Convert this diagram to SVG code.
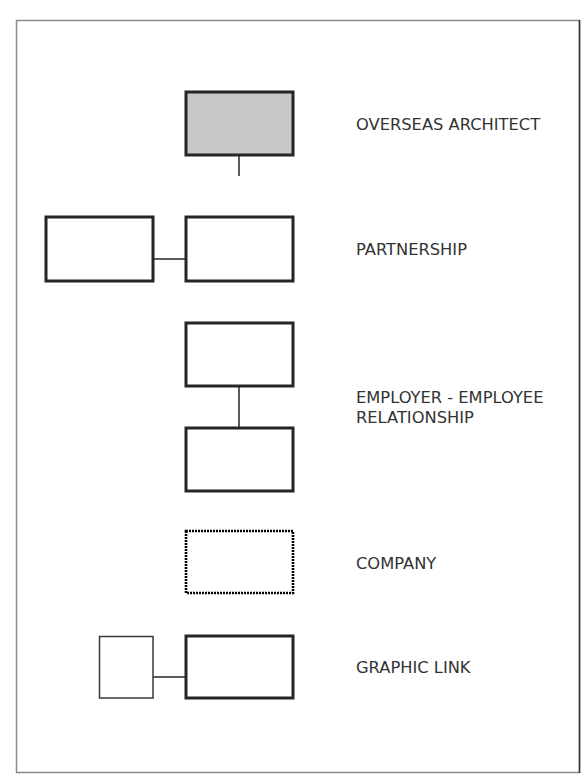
<svg xmlns="http://www.w3.org/2000/svg" width="585" height="779" viewBox="0 0 585 779">
  <style>
    .frame { fill: #ffffff; stroke: #8a8a8a; stroke-width: 1.5; }
    .box { fill: #ffffff; stroke: #252525; stroke-width: 3; }
    .shaded { fill: #c8c8c8; }
    .dotted { fill: #ffffff; stroke: #000000; stroke-width: 2.6; stroke-dasharray: 2 1; }
    .thin { fill: #ffffff; stroke: #3a3a3a; stroke-width: 1.5; }
    .link { stroke: #333333; stroke-width: 1.6; fill: none; }
    .label { font-family: "DejaVu Sans", Verdana, sans-serif; font-size: 16.3px; fill: #333333; }
  </style>

  <rect x="0" y="0" width="585" height="779" fill="#ffffff"/>
  <!-- outer frame -->
  <rect class="frame" x="16.5" y="20.5" width="563" height="752"/>
  <line x1="579.5" y1="20" x2="579.5" y2="773" stroke="#333333" stroke-width="1.5"/>

  <g id="connectors">
    <line class="link" x1="239" y1="156" x2="239" y2="176"/>
    <line class="link" x1="154" y1="259" x2="185" y2="259"/>
    <line class="link" x1="239" y1="386" x2="239" y2="427"/>
    <line class="link" x1="153" y1="677" x2="185" y2="677"/>
  </g>

  <g id="overseas-architect">
    <rect class="box shaded" x="186" y="92" width="107" height="63"/>
    <text class="label" x="356" y="130">OVERSEAS ARCHITECT</text>
  </g>

  <g id="partnership">
    <rect class="box" x="46" y="217" width="107" height="64"/>
    <rect class="box" x="186" y="217" width="107" height="64"/>
    <text class="label" x="356" y="255">PARTNERSHIP</text>
  </g>

  <g id="employer-employee">
    <rect class="box" x="186" y="323" width="107" height="63"/>
    <rect class="box" x="186" y="428" width="107" height="63"/>
    <text class="label" x="356" y="403">EMPLOYER - EMPLOYEE</text>
    <text class="label" x="356" y="423">RELATIONSHIP</text>
  </g>

  <g id="company">
    <rect class="dotted" x="186" y="531" width="107" height="62"/>
    <text class="label" x="356" y="569">COMPANY</text>
  </g>

  <g id="graphic-link">
    <rect class="thin" x="99.5" y="636.5" width="53.5" height="61.5"/>
    <rect class="box" x="186" y="636" width="107" height="62"/>
    <text class="label" x="356" y="673">GRAPHIC LINK</text>
  </g>
</svg>
